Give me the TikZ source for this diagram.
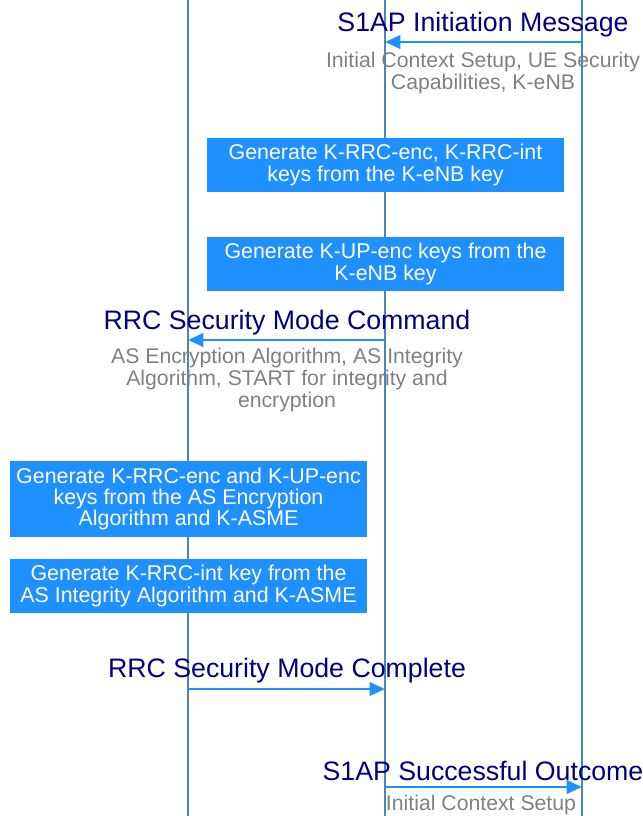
\documentclass[tikz,border=0pt]{standalone}
\usepackage{fontspec}
\setmainfont{Liberation Sans}
\usetikzlibrary{arrows.meta, positioning}
\definecolor{msgnavy}{RGB}{0, 0, 128}
\definecolor{arrowblue}{RGB}{30, 144, 255}
\definecolor{lifeblue}{RGB}{74, 134, 190}
\definecolor{notegray}{RGB}{128, 128, 128}

\begin{document}
\begin{tikzpicture}[x=0.025cm, y=-0.025cm,
  lifeline/.style={draw=lifeblue, line width=1.3pt},
  msg/.style={draw=arrowblue, line width=2pt, -{Triangle[length=11pt, width=9.5pt]}},
  msgtitle/.style={text=msgnavy, font=\fontsize{19}{22}\selectfont, inner sep=0pt},
  msgnote/.style={text=notegray, font=\fontsize{15.1}{15.6}\selectfont, align=center, inner sep=0pt},
  keybox/.style={fill=arrowblue, text=white, font=\fontsize{15.2}{15}\selectfont, align=center,
    minimum width=8.925cm, minimum height=1.35cm, inner sep=0pt}
]
  \useasboundingbox (0, 0) rectangle (643, 816);

  % Lifelines
  \coordinate (ueTop) at (188, 0);   \coordinate (ueBot) at (188, 816);
  \coordinate (enbTop) at (385, 0);  \coordinate (enbBot) at (385, 816);
  \coordinate (mmeTop) at (582, 0);  \coordinate (mmeBot) at (582, 816);
  \draw[lifeline] (ueTop) -- (ueBot);
  \draw[lifeline] (enbTop) -- (enbBot);
  \draw[lifeline] (mmeTop) -- (mmeBot);

  % S1AP Initiation Message
  \node[msgtitle] (s1apInit) at (483, 25) {S1AP Initiation Message};
  \coordinate (initFrom) at (582, 42);
  \coordinate (initTo) at (385, 42);
  \draw[msg] (initFrom) -- (initTo);
  \node[msgnote] (initNote) at (483, 73) {Initial Context Setup, UE Security\\Capabilities, K-eNB};

  % Key generation at eNB
  \node[keybox] (rrcKeys) at (385.5, 165) {Generate K-RRC-enc, K-RRC-int\\keys from the K-eNB key};
  \node[keybox] (upKeys) at (385.5, 264) {Generate K-UP-enc keys from the\\K-eNB key};

  % RRC Security Mode Command
  \node[msgtitle] (smCmd) at (287, 323) {RRC Security Mode Command};
  \coordinate (cmdFrom) at (385, 340);
  \coordinate (cmdTo) at (188, 340);
  \draw[msg] (cmdFrom) -- (cmdTo);
  \node[msgnote] (cmdNote) at (287, 380) {AS Encryption Algorithm, AS Integrity\\Algorithm, START for integrity and\\encryption};

  % Key generation at UE
  \node[keybox, minimum height=1.9cm] (ueEncKeys) at (188.5, 499) {Generate K-RRC-enc and K-UP-enc\\keys from the AS Encryption\\Algorithm and K-ASME};
  \node[keybox] (ueIntKey) at (188.5, 586) {Generate K-RRC-int key from the\\AS Integrity Algorithm and K-ASME};

  % RRC Security Mode Complete
  \node[msgtitle] (smDone) at (287, 671) {RRC Security Mode Complete};
  \coordinate (doneFrom) at (188, 689);
  \coordinate (doneTo) at (385, 689);
  \draw[msg] (doneFrom) -- (doneTo);

  % S1AP Successful Outcome
  \node[msgtitle] (s1apDone) at (483, 771) {S1AP Successful Outcome};
  \coordinate (outFrom) at (385, 787);
  \coordinate (outTo) at (582, 787);
  \draw[msg] (outFrom) -- (outTo);
  \node[msgnote] (outNote) at (481, 805) {Initial Context Setup};
\end{tikzpicture}
\end{document}
